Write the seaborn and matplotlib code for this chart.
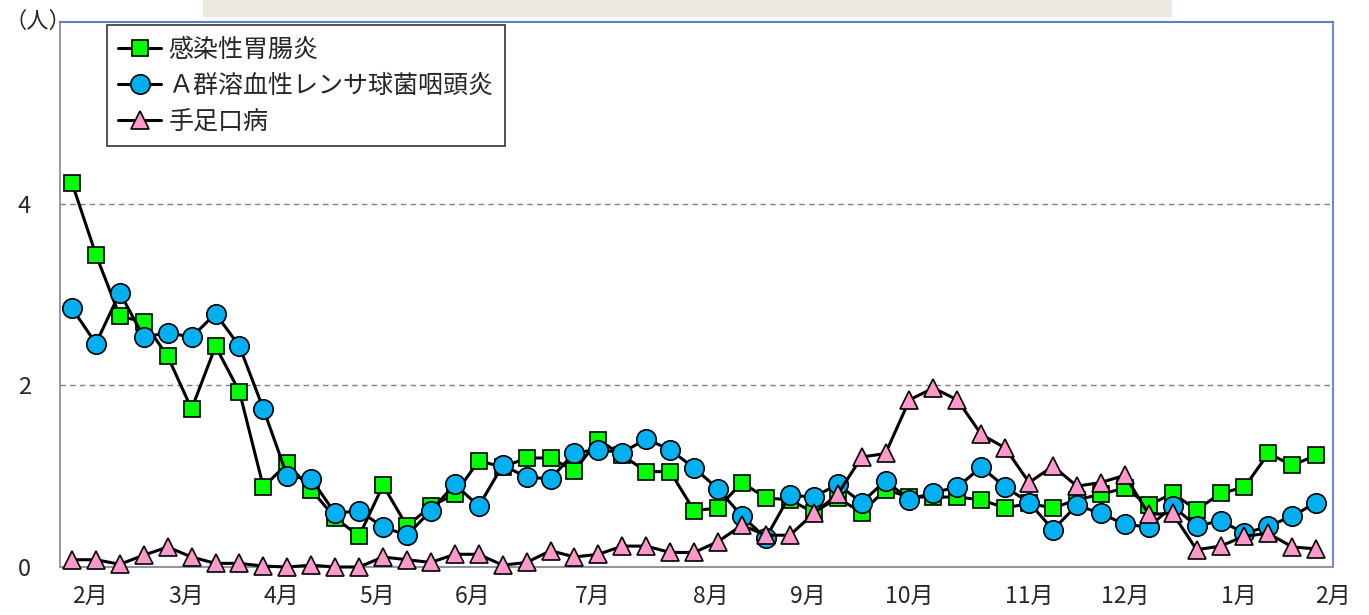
import matplotlib
matplotlib.use("Agg")
import matplotlib.pyplot as plt
import numpy as np
import pandas as pd
import seaborn as sns
from matplotlib.patches import Rectangle

# weekly values (人), 53 weeks from early Feb to late Jan
gastro = [4.23, 3.44, 2.76, 2.70, 2.32, 1.74, 2.43, 1.93, 0.88, 1.14,
          0.85, 0.54, 0.34, 0.90, 0.45, 0.67, 0.80, 1.17, 1.10, 1.20,
          1.20, 1.06, 1.40, 1.23, 1.05, 1.05, 0.62, 0.65, 0.93, 0.76,
          0.74, 0.60, 0.76, 0.60, 0.85, 0.77, 0.77, 0.77, 0.74, 0.65,
          0.70, 0.65, 0.74, 0.80, 0.87, 0.68, 0.81, 0.63, 0.81, 0.88,
          1.25, 1.12, 1.23]
strep = [2.85, 2.46, 3.02, 2.53, 2.58, 2.53, 2.79, 2.43, 1.74, 1.00,
         0.97, 0.59, 0.62, 0.44, 0.35, 0.62, 0.91, 0.67, 1.12, 0.99,
         0.97, 1.26, 1.29, 1.26, 1.41, 1.29, 1.09, 0.86, 0.56, 0.32,
         0.79, 0.77, 0.91, 0.71, 0.95, 0.74, 0.82, 0.88, 1.10, 0.88,
         0.71, 0.41, 0.68, 0.59, 0.47, 0.44, 0.67, 0.45, 0.51, 0.37,
         0.45, 0.56, 0.71]
hfmd = [0.08, 0.08, 0.03, 0.13, 0.22, 0.11, 0.04, 0.04, 0.01, 0.00,
        0.02, 0.00, 0.00, 0.11, 0.08, 0.05, 0.14, 0.14, 0.02, 0.05,
        0.18, 0.11, 0.14, 0.23, 0.23, 0.16, 0.16, 0.28, 0.46, 0.35,
        0.35, 0.59, 0.80, 1.21, 1.25, 1.84, 1.97, 1.84, 1.46, 1.31,
        0.93, 1.11, 0.89, 0.93, 1.01, 0.58, 0.59, 0.19, 0.23, 0.34,
        0.37, 0.22, 0.20]

series_names = ["感染性胃腸炎", "Ａ群溶血性レンサ球菌咽頭炎", "手足口病"]
month_labels = ["2月", "3月", "4月", "5月", "6月", "7月", "8月", "9月",
                "10月", "11月", "12月", "1月", "2月"]
month_pos = [0.75, 4.75, 8.75, 12.75, 16.75, 21.75, 26.7, 30.75,
             35.0, 40.0, 44.0, 48.75, 52.7]

weeks = np.arange(len(gastro))
df = pd.DataFrame({"week": weeks, series_names[0]: gastro,
                   series_names[1]: strep, series_names[2]: hfmd})

sns.set_theme(style="white")
plt.rcParams["font.family"] = ["Noto Sans CJK JP", "DejaVu Sans"]

fig = plt.figure(figsize=(13.69, 6.15), dpi=100)
ax = fig.add_axes([60 / 1369, 48 / 615, 1273 / 1369, 545 / 615])

styles = [
    dict(marker="s", markerfacecolor="#00FF00", markersize=12),
    dict(marker="o", markerfacecolor="#00B0F0", markersize=14),
    dict(marker="^", markerfacecolor="#FF99CC", markersize=13),
]
for z, (name, st) in enumerate(zip(series_names, styles)):
    sns.lineplot(data=df, x="week", y=name, ax=ax, color="black",
                 linewidth=2.2, markeredgecolor="black", markeredgewidth=1.2,
                 label=name, zorder=3 + z, clip_on=False, **st)

ax.set_xlim(-0.5, 52.5)
ax.set_ylim(0, 6)
ax.set_yticks([0, 2, 4])
ax.set_yticklabels(["0", "2", "4"], fontsize=17)
ax.set_xticks(month_pos)
ax.set_xticklabels(month_labels, fontsize=16.5)
ax.tick_params(axis="both", length=0)
ax.tick_params(axis="x", pad=13)
ax.tick_params(axis="y", pad=21)
ax.set_xlabel("")
ax.set_ylabel("")

for y in [2, 4]:
    ax.axhline(y, color="#808080", linestyle=(0, (4, 3)), linewidth=1.0, zorder=1)

ax.spines["left"].set_color("#8c8c8c")
ax.spines["bottom"].set_color("#8c96a0")
ax.spines["bottom"].set_linewidth(1.5)
ax.spines["top"].set_color("#5b82c0")
ax.spines["top"].set_linewidth(1.5)
ax.spines["right"].set_color("#6d8fc7")
ax.spines["right"].set_linewidth(1.5)

leg = ax.legend(loc="upper left", bbox_to_anchor=(0.037, 0.994),
                borderaxespad=0, fontsize=18, frameon=True, fancybox=False,
                edgecolor="black", handlelength=1.7, labelspacing=0.4,
                handletextpad=0.3, borderpad=0.45)
leg.get_frame().set_linewidth(1.2)
leg.set_zorder(10)

# partial header banner and unit label
fig.patches.append(Rectangle((203 / 1369, 1 - 17 / 615), 969 / 1369, 17 / 615,
                             transform=fig.transFigure, facecolor="#ECE9E0",
                             edgecolor="none"))
fig.text(4 / 1369, 1 - 21 / 615, "（人）", fontsize=16, va="center", ha="left")

fig.savefig("out.png", dpi=100)
